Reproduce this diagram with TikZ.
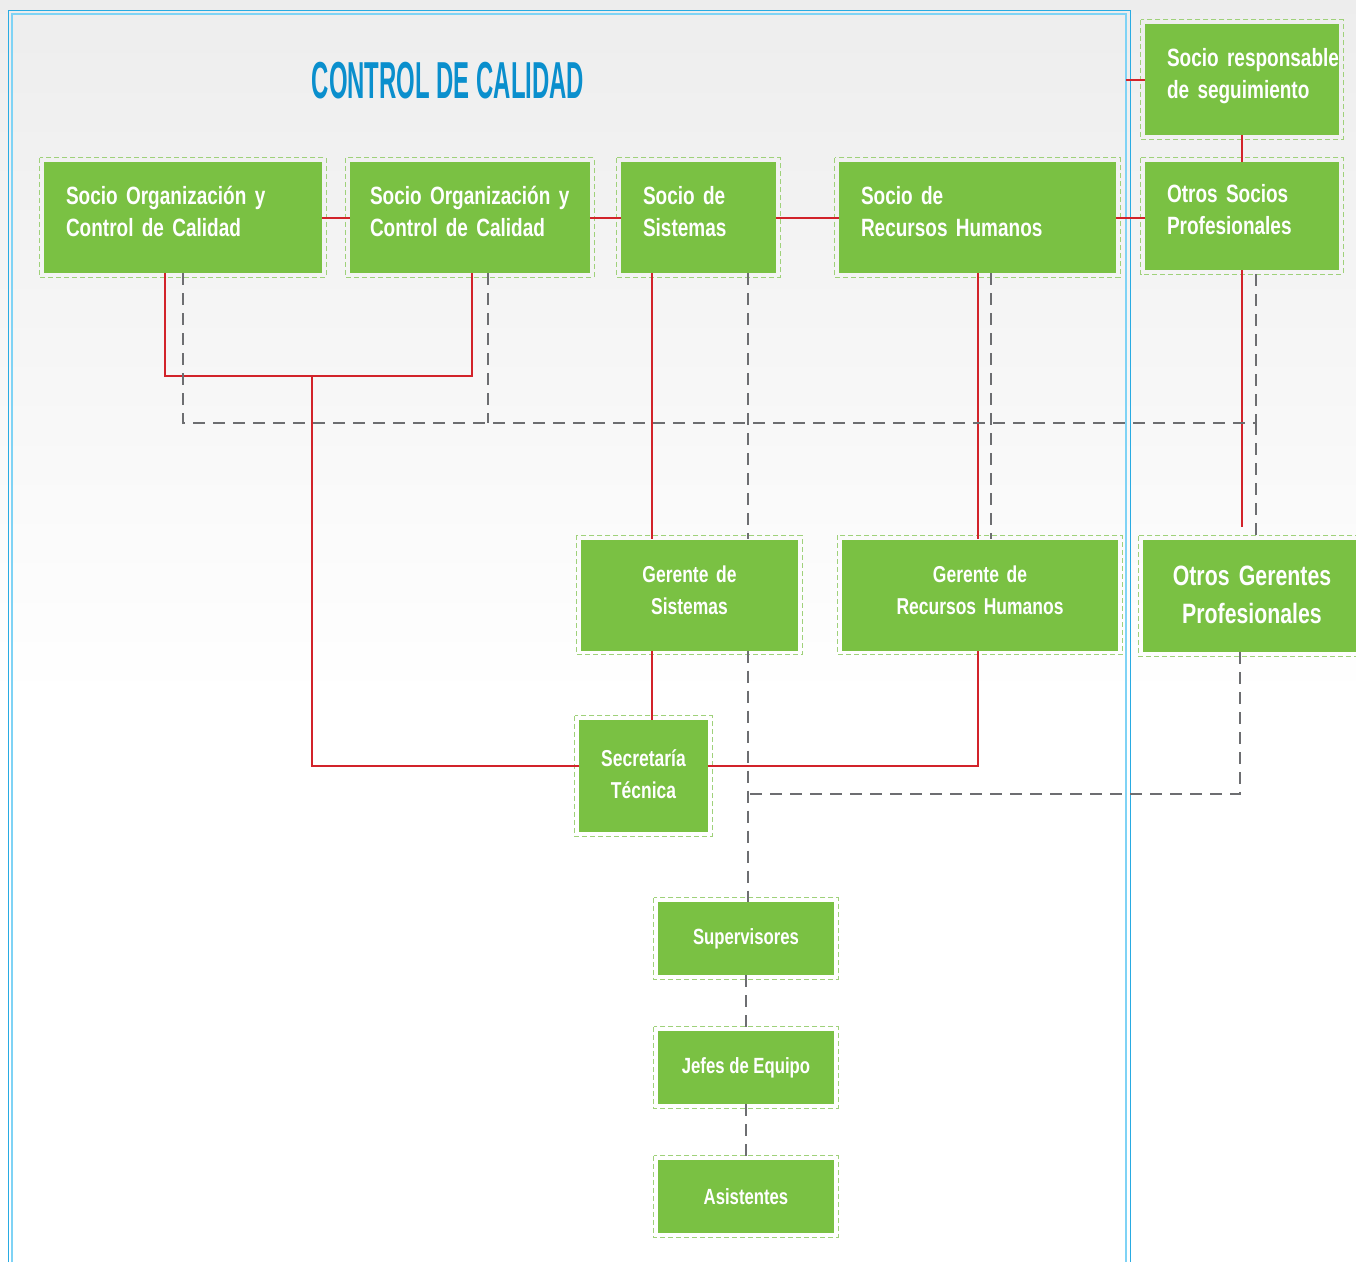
\documentclass[tikz,border=0pt]{standalone}
\usepackage{fontspec}
\newfontfamily\boxfont{Liberation Sans}[FakeStretch=0.76]
\newfontfamily\titlefont{Liberation Sans}[FakeStretch=0.46]

\definecolor{boxgreen}{HTML}{7AC143}
\definecolor{dashgreen}{HTML}{9FD17A}
\definecolor{linered}{HTML}{D2232A}
\definecolor{linegrey}{HTML}{6D6E71}
\definecolor{titleblue}{HTML}{0A8FCD}
\definecolor{frameblue}{HTML}{29ABE2}
\definecolor{framelight}{HTML}{7FD3F5}

\tikzset{
    caja/.style={fill=boxgreen, text=white, inner sep=0pt},
    socio/.style={caja, align=left, inner xsep=22pt, minimum height=111pt,
        text height=20pt, text depth=47pt,
        font={\boxfont\bfseries\fontsize{25}{32}\selectfont}},
    gerente/.style={caja, align=center, minimum height=111pt,
        text height=20pt, text depth=46pt,
        font={\boxfont\bfseries\fontsize{23}{32}\selectfont}},
    equipo/.style={caja, align=center, minimum width=176pt, minimum height=73pt,
        font={\boxfont\bfseries\fontsize{22}{24}\selectfont}},
    marco/.style={draw=dashgreen, dash pattern=on 5pt off 3pt, line width=1.1pt},
    rojo/.style={draw=linered, line width=2pt},
    gris/.style={draw=linegrey, line width=2pt, dash pattern=on 12pt off 8pt},
    titulo/.style={text=titleblue, font={\titlefont\bfseries\fontsize{52}{52}\selectfont}}
    }

\begin{document}
\begin{tikzpicture}[x=1pt, y=-1pt]
                \useasboundingbox (0,0) rectangle (1356,1262);
                % Fondo y marco
                \fill[white] (0,0) rectangle (1356,1262);
                \shade[top color=black!7, bottom color=white] (0,0) rectangle (1356,700);
                \draw[frameblue, line width=1pt] (8,1262) |- (1130,10) -- (1130,1262);
                \draw[framelight, line width=2pt] (12,1262) |- (1126,14) -- (1126,1262);
                \node[titulo] (tit) at (448,81) {CONTROL DE CALIDAD};

                % Socios
                \node[socio, text width=234pt] (soc1) at (183,217.5) {\mbox{Socio Organización y}\\Control de Calidad};
                \node[socio, text width=200pt, inner xsep=20pt] (soc2) at (470,217.5) {\mbox{Socio Organización y}\\Control de Calidad};
                \node[socio, text width=111pt] (socsis) at (698.5,217.5) {Socio de\\Sistemas};
                \node[socio, text width=233pt] (socrh) at (977.5,217.5) {Socio de\\Recursos Humanos};
                \node[socio, text width=150pt] (socresp) at (1242,79.5) {\mbox{Socio responsable}\\\mbox{de seguimiento}};
                \node[socio, text width=150pt, minimum height=108pt] (otrsoc) at (1242,216) {Otros Socios\\Profesionales};

                % Gerentes
                \node[gerente, text width=217pt] (gersis) at (689.5,595) {Gerente de\\Sistemas};
                \node[gerente, text width=276pt] (gerrh) at (980,595) {Gerente de\\Recursos Humanos};
                \node[gerente, text width=218pt, minimum height=112pt, text height=22pt, text depth=44pt,
                    font={\boxfont\bfseries\fontsize{28}{38}\selectfont}] (otrger) at (1252,596) {Otros Gerentes\\Profesionales};
                \node[gerente, text width=129pt, minimum height=112pt, text depth=40pt] (secr) at (643.5,776) {Secretaría\\Técnica};

                % Equipo
                \node[equipo] (superv) at (746,938.5) {Supervisores};
                \node[equipo] (jefes) at (746,1067.5) {Jefes de Equipo};
                \node[equipo] (asist) at (746,1196.5) {Asistentes};

                \foreach \n in {soc1,soc2,socsis,socrh,socresp,otrsoc,gersis,gerrh,otrger,secr,superv,jefes,asist}
                    \draw[marco] ([shift={(-4pt,4pt)}]\n.north west) rectangle ([shift={(4pt,-4pt)}]\n.south east);

                % Lineas rojas
                \coordinate (borde) at (1126,79.5);
                \coordinate (j1) at (312,376);
                \draw[rojo] (soc1) -- (soc2);
                \draw[rojo] (soc2) -- (socsis);
                \draw[rojo] (socsis) -- (socrh);
                \draw[rojo] (socrh.east) -- (socrh.east -| otrsoc.west);
                \draw[rojo] (borde) -- (socresp.west);
                \draw[rojo] (socresp) -- (otrsoc);
                \draw[rojo] ([xshift=-18pt]soc1.south) |- (j1) -| ([xshift=2pt]soc2.south);
                \draw[rojo] (j1) |- ([yshift=10pt]secr.west);
                \draw[rojo] ([xshift=-46.5pt]socsis.south) -- ([xshift=-46.5pt]socsis.south |- gersis.north);
                \draw[rojo] ([xshift=-37.5pt]gersis.south) -- ([xshift=-37.5pt]gersis.south |- secr.north);
                \draw[rojo] ([yshift=10pt]secr.east) -| ([xshift=-2pt]gerrh.south);
                \draw[rojo] (socrh.south) -- (socrh.south |- gerrh.north);
                \draw[rojo] (otrsoc.south) -- ([yshift=13pt]otrsoc.south |- otrger.north);

                % Lineas grises
                \coordinate (j2) at (1256,423);
                \coordinate (j3) at (748,794);
                \draw[gris] (soc1.south) |- (j2) -- ([xshift=14pt]otrsoc.south);
                \draw[gris] (j2) -- (j2 |- otrger.north);
                \draw[gris] ([xshift=18pt]soc2.south) -- ([xshift=18pt]soc2.south |- j2);
                \draw[gris] (socsis.south -| j3) -- (gersis.north -| j3);
                \draw[gris] ([xshift=13.5pt]socrh.south) -- ([xshift=13.5pt]socrh.south |- gerrh.north);
                \draw[gris] (gersis.south -| j3) -- (superv.north -| j3);
                \draw[gris] ([xshift=-12pt]otrger.south) |- (j3);
                \draw[gris] (superv) -- (jefes);
                \draw[gris] (jefes) -- (asist);
            \end{tikzpicture}
\end{document}
